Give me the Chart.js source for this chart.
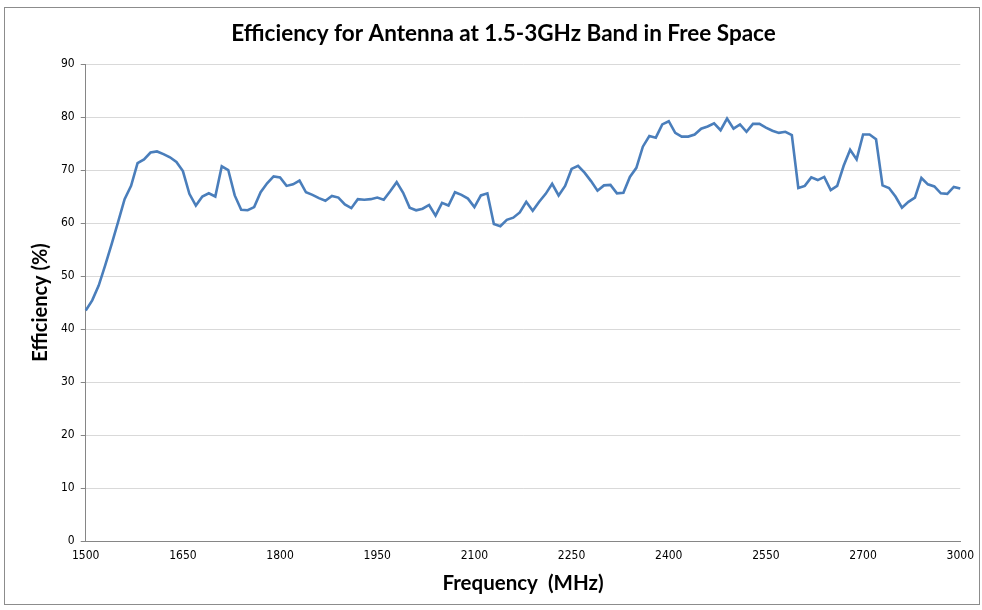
<!DOCTYPE html>
<html>
<head>
<meta charset="utf-8">
<script src="https://cdn.jsdelivr.net/npm/chart.js@4/dist/chart.umd.min.js"></script>
<style>
html,body{margin:0;padding:0;background:#fff;}
#wrap{width:982px;height:610px;position:relative;}
</style>
</head>
<body>
<div id="wrap"><canvas id="c" width="982" height="610"></canvas></div>
<script>
const frequencies = [1500,1510,1520,1530,1540,1550,1560,1570,1580,1590,1600,1610,1620,1630,1640,1650,1660,1670,1680,1690,1700,1710,1720,1730,1740,1750,1760,1770,1780,1790,1800,1810,1820,1830,1840,1850,1860,1870,1880,1890,1900,1910,1920,1930,1940,1950,1960,1970,1980,1990,2000,2010,2020,2030,2040,2050,2060,2070,2080,2090,2100,2110,2120,2130,2140,2150,2160,2170,2180,2190,2200,2210,2220,2230,2240,2250,2260,2270,2280,2290,2300,2310,2320,2330,2340,2350,2360,2370,2380,2390,2400,2410,2420,2430,2440,2450,2460,2470,2480,2490,2500,2510,2520,2530,2540,2550,2560,2570,2580,2590,2600,2610,2620,2630,2640,2650,2660,2670,2680,2690,2700,2720,2740,2760,2780,2800,2820,2840,2860,2880,2900,2920,2940,2960,2980,3000];
const efficiency = [43.5,45.4,48.2,52,56,60.2,64.5,67,71.3,72,73.3,73.5,73,72.4,71.5,69.8,65.5,63.3,65,65.6,65,70.7,70,65.2,62.5,62.4,63,65.8,67.5,68.8,68.6,67,67.3,68,65.8,65.3,64.7,64.2,65.1,64.8,63.5,62.8,64.5,64.4,64.5,64.8,64.4,66,67.7,65.7,62.9,62.4,62.7,63.4,61.4,63.8,63.3,65.8,65.3,64.6,63,65.2,65.6,59.8,59.4,60.6,61,62,64,62.3,64,65.5,67.4,65.2,67,70.2,70.8,69.5,67.9,66.1,67.1,67.2,65.6,65.7,68.7,70.4,74.4,76.4,76.1,78.6,79.2,77,76.3,76.3,76.7,77.8,78.2,78.8,77.5,79.7,77.8,78.6,77.2,78.7,78.7,78,77.4,77,77.2,76.6,66.6,67,68.6,68.1,68.7,66.2,67,70.8,73.8,72,76.7,76.7,75.8,67.1,66.6,65,62.9,64,64.8,68.5,67.3,66.9,65.6,65.5,66.8,66.5];
const xTickLabels = [1500,1650,1800,1950,2100,2250,2400,2550,2700,3000];
const yTicks = [0,10,20,30,40,50,60,70,80,90];

const tickFont = {family:'"Liberation Sans Narrow","DejaVu Sans Condensed","Liberation Sans",sans-serif', size:12};
const boldFont = (s)=>({family:'Lato,"Liberation Sans",sans-serif', size:s, weight:'bold'});

const framePlugin = {
  id:'frame',
  beforeDraw(chart){
    const ctx = chart.ctx;
    ctx.save();
    ctx.fillStyle='#fff';
    ctx.fillRect(0,0,chart.width,chart.height);
    ctx.strokeStyle='#8c8c8c';
    ctx.lineWidth=1;
    ctx.strokeRect(4.5,7.5,975,597);
    ctx.restore();
  }
};

new Chart(document.getElementById('c'),{
  type:'line',
  data:{
    labels:frequencies.map(String),
    datasets:[{
      label:'Efficiency',
      data:efficiency,
      borderColor:'#4a7ebb',
      borderWidth:2.6,
      pointRadius:0,
      tension:0,
      fill:false
    }]
  },
  options:{
    responsive:false,
    animation:false,
    layout:{padding:{left:29,right:4,top:17,bottom:14}},
    plugins:{
      legend:{display:false},
      tooltip:{enabled:false},
      title:{display:true,text:'Efficiency for Antenna at 1.5-3GHz Band in Free Space',
        color:'#000',font:boldFont(22.5),padding:{top:3,bottom:17}}
    },
    scales:{
      x:{type:'category',offset:false,
        grid:{display:false,drawTicks:false},
        border:{display:true,color:'#868686',width:1},
        ticks:{color:'#000',font:tickFont,padding:8,maxRotation:0,autoSkip:false,
          callback(val,idx){
            const lab = frequencies[idx];
            return xTickLabels.includes(lab) ? String(lab) : null;
          }},
        title:{display:true,text:'Frequency  (MHz)',color:'#000',font:boldFont(20.5),padding:{top:0,bottom:0}}
      },
      y:{min:0,max:90,
        afterBuildTicks(axis){axis.ticks = yTicks.map(v=>({value:v}));},
        grid:{color:'#d9d9d9',lineWidth:1,tickLength:5,tickColor:'#868686'},
        border:{display:true,color:'#868686',width:1},
        ticks:{color:'#000',font:tickFont,padding:6,callback:(v)=>String(v)},
        title:{display:true,text:'Efficiency (%)',color:'#000',font:boldFont(20),padding:{top:0,bottom:2}}
      }
    }
  },
  plugins:[framePlugin]
});
</script>
</body>
</html>
